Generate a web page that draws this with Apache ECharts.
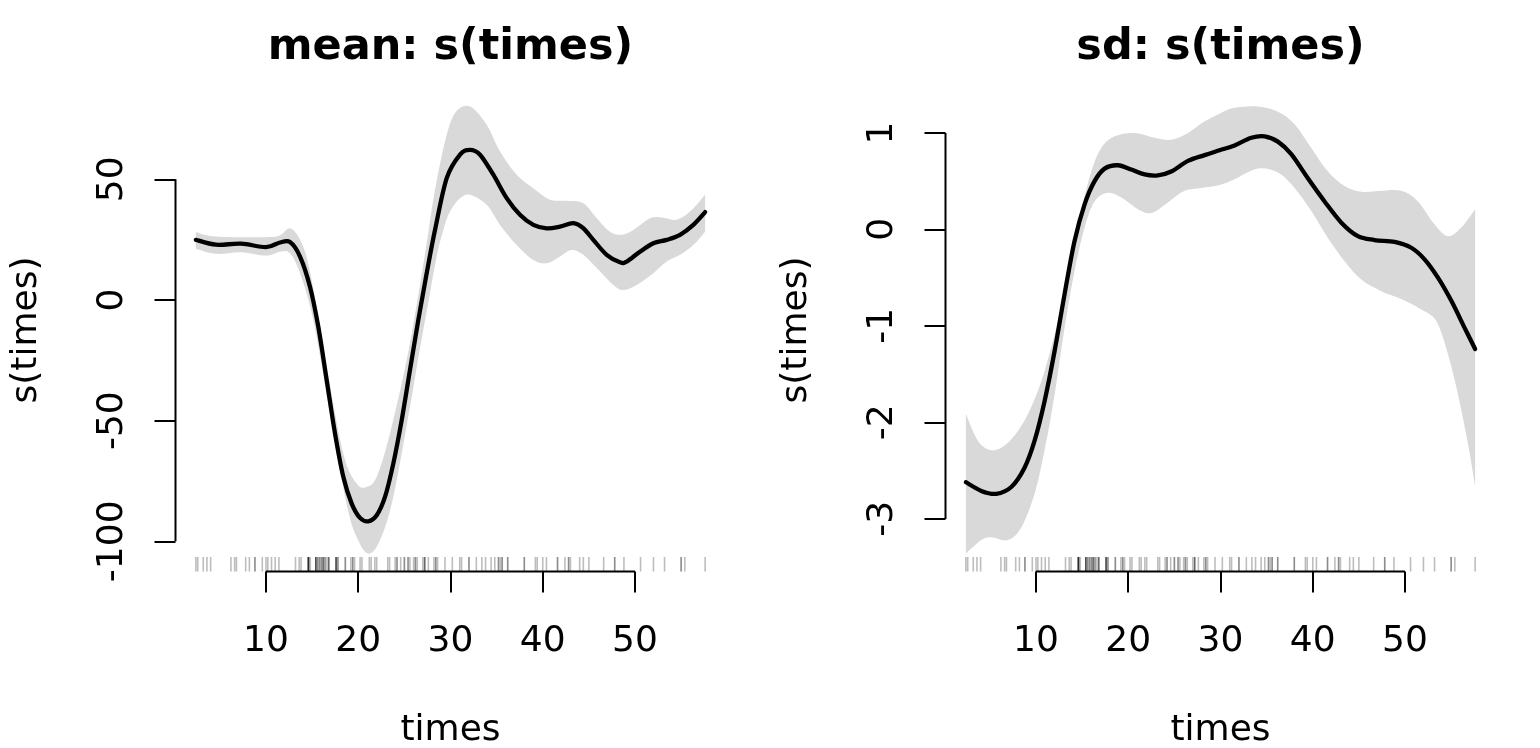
<!DOCTYPE html>
<html><head><meta charset="utf-8">
<script src="https://cdn.jsdelivr.net/npm/echarts@6/dist/echarts.min.js"></script>
<style>html,body{margin:0;padding:0;background:#fff}#c{width:1540px;height:748px}</style>
</head><body><div id="c"></div>
<script>
// rug: observed times (mcycle)
const times = [2.4,2.6,3.2,3.6,4.0,6.2,6.6,6.8,7.8,8.2,8.8,8.8,9.6,10.0,10.2,10.6,11.0,11.4,13.2,13.6,13.8,14.6,14.6,14.6,14.6,14.6,14.6,14.8,15.4,15.4,15.4,15.4,15.6,15.6,15.8,15.8,16.0,16.0,16.2,16.2,16.2,16.4,16.4,16.6,16.8,16.8,16.8,17.6,17.6,17.6,17.6,17.8,17.8,18.6,18.6,19.2,19.4,19.4,19.6,20.2,20.4,21.2,21.4,21.8,22.0,23.2,23.4,24.0,24.2,24.2,24.6,25.0,25.0,25.4,25.4,25.6,26.0,26.2,26.2,26.4,27.0,27.2,27.2,27.2,27.6,28.2,28.4,28.4,28.6,29.4,30.2,31.0,31.2,32.0,32.0,32.8,33.4,33.8,34.4,34.8,35.2,35.2,35.4,35.6,35.6,36.2,36.2,38.0,38.0,39.2,39.4,40.0,40.4,41.6,41.6,42.4,42.8,42.8,43.0,44.0,44.4,45.0,46.6,47.8,47.8,48.8,50.6,52.0,53.2,55.0,55.0,55.4,57.6];

// mean: s(times)
const meanFitT = [2.4,4.58,7.29,10.0,11.52,12.6,13.69,14.77,15.67,16.58,17.48,18.38,19.29,20.19,21.09,22.0,22.9,23.8,24.71,25.61,26.51,27.42,28.32,29.59,31.03,32.11,33.2,34.64,36.09,37.53,38.98,40.43,41.87,43.31,44.4,45.48,46.93,48.37,49.1,50.54,51.99,53.43,54.88,56.32,57.6];
const meanFitV = [24.9,22.9,23.3,21.9,23.8,24.0,18.0,5.5,-11.1,-33.2,-55.3,-73.3,-84.4,-90.3,-91.7,-89.2,-81.6,-67.8,-49.8,-29.0,-8.3,11.1,29.0,50.5,60.2,62.2,60.2,51.9,42.2,35.3,31.1,29.7,30.4,31.8,29.7,24.9,18.7,15.6,15.9,20.0,23.5,24.9,27.0,31.1,36.4];
const meanUpT = [2.4,4.58,10.0,11.52,12.6,13.69,14.77,16.58,18.38,19.83,20.91,22.0,23.44,25.25,26.51,27.4,28.2,29.4,30.5,32.11,33.92,35.37,37.17,38.98,40.79,42.6,44.4,45.85,47.29,48.55,49.82,51.63,53.07,54.52,55.96,57.6];
const meanUpV = [28.1,26.3,26.0,26.8,29.7,24.9,11.8,-27.7,-63.6,-76.1,-77.5,-73.3,-55.3,-24.9,2.1,23.0,43.0,65.7,77.5,80.2,72.6,61.5,51.9,46.3,41.5,41.1,40.1,33.9,28.3,27.0,29.0,33.9,34.1,33.2,36.6,43.6];
const meanLoT = [2.4,4.58,7.29,10.0,11.52,12.6,13.69,15.13,16.94,18.74,19.83,21.09,22.35,23.8,25.61,26.6,27.6,28.5,29.3,29.95,31.0,32.11,33.92,35.37,37.17,38.98,40.43,41.87,43.13,44.4,45.85,47.65,48.73,50.18,51.99,53.43,54.88,56.32,57.6];
const meanLoV = [21.2,19.1,19.8,18.4,20.0,19.4,11.1,-8.3,-47.0,-84.4,-98.2,-105.1,-99.6,-81.6,-44.3,-22.0,-1.0,18.0,30.0,36.6,42.0,43.6,39.4,31.1,22.8,16.6,15.2,18.0,20.7,18.7,13.2,6.2,4.1,6.2,11.1,15.9,18.7,22.8,28.3];

// sd: s(times)
const sdFitT = [2.4,4.07,5.7,7.32,8.76,9.85,10.93,12.02,13.1,14.18,15.27,16.35,17.44,18.88,20.33,21.77,23.21,24.66,26.47,28.28,29.9,31.53,33.34,34.78,36.22,37.67,39.47,41.28,43.1,44.9,46.7,48.87,50.68,52.12,53.57,55.02,56.46,57.6];
const sdFitV = [-2.62,-2.71,-2.74,-2.67,-2.47,-2.19,-1.78,-1.26,-0.67,-0.12,0.26,0.50,0.63,0.665,0.62,0.57,0.56,0.60,0.71,0.77,0.82,0.87,0.95,0.965,0.91,0.78,0.53,0.29,0.07,-0.07,-0.11,-0.13,-0.19,-0.31,-0.50,-0.74,-1.02,-1.24];
const sdUpT = [2.4,3.7,5.15,6.6,8.04,9.49,10.93,12.38,13.83,14.91,16.0,17.08,18.52,20.69,22.86,24.66,26.47,28.28,29.9,31.53,34.05,36.22,38.03,39.84,41.64,43.45,45.26,47.43,49.6,51.4,53.21,54.65,56.1,57.6];
const sdUpV = [-1.91,-2.19,-2.29,-2.24,-2.09,-1.84,-1.47,-0.95,-0.33,0.19,0.60,0.845,0.965,1.0,0.95,0.93,1.0,1.12,1.2,1.26,1.275,1.22,1.09,0.845,0.60,0.45,0.39,0.40,0.40,0.29,0.05,-0.07,0.02,0.21];
const sdLoT = [2.4,4.07,5.15,6.95,8.4,9.85,10.93,12.02,13.1,14.18,15.27,16.35,17.8,19.25,21.05,22.5,24.3,26.11,27.92,29.9,31.53,34.05,36.22,38.03,39.84,41.64,43.45,45.26,47.43,49.6,51.77,53.39,54.65,55.74,56.82,57.6];
const sdLoV = [-3.36,-3.22,-3.19,-3.22,-3.09,-2.74,-2.29,-1.71,-1.02,-0.43,0.02,0.29,0.38,0.33,0.21,0.17,0.28,0.40,0.43,0.46,0.52,0.63,0.59,0.43,0.19,-0.09,-0.33,-0.52,-0.64,-0.72,-0.83,-0.95,-1.29,-1.71,-2.22,-2.66];

// tick labels
const xTicks = [10,20,30,40,50];
const meanYTicks = [-100,-50,0,50];
const sdYTicks = [-3,-2,-1,0,1];
const titles = ['mean: s(times)', 'sd: s(times)'];
const xName = 'times';
const yName = 's(times)';

// R-style axis ranges (data range extended 4% each side)
function ext(a, b){ const d = (b - a) * 0.04; return [a - d, b + d]; }
const xr = ext(Math.min(...times), Math.max(...times));
const meanYr = ext(Math.min(...meanLoV), Math.max(...meanUpV));
const sdYr = ext(Math.min(...sdLoV), Math.max(...sdUpV));

const FONT = 'DejaVu Sans';

function catmull(pts){
  let d = '';
  for (let i = 0; i < pts.length - 1; i++){
    const p0 = pts[i-1] || pts[i], p1 = pts[i], p2 = pts[i+1], p3 = pts[i+2] || pts[i+1];
    const c1 = [p1[0] + (p2[0]-p0[0])/6, p1[1] + (p2[1]-p0[1])/6];
    const c2 = [p2[0] - (p3[0]-p1[0])/6, p2[1] - (p3[1]-p1[1])/6];
    d += ' C' + c1[0] + ',' + c1[1] + ' ' + c2[0] + ',' + c2[1] + ' ' + p2[0] + ',' + p2[1];
  }
  return d;
}
function bandSeries(gi, upT, upV, loT, loV){
  return {
    type: 'custom', xAxisIndex: gi, yAxisIndex: gi, z: 1, silent: true, clip: false,
    data: [[upT[0], upV[0]]],
    renderItem: function(params, api){
      const up = upT.map((t, i) => api.coord([t, upV[i]]));
      const lo = loT.map((t, i) => api.coord([t, loV[i]])).reverse();
      const d = 'M' + up[0][0] + ',' + up[0][1] + catmull(up) +
        ' L' + lo[0][0] + ',' + lo[0][1] + catmull(lo) + ' Z';
      return { type: 'path', shape: { pathData: d }, style: { fill: '#d9d9d9', stroke: null } };
    }
  };
}
function fitSeries(gi, t, v){
  return {
    type: 'custom', xAxisIndex: gi, yAxisIndex: gi, z: 3, silent: true, clip: false,
    data: [[t[0], v[0]]],
    renderItem: function(params, api){
      const p = t.map((x, i) => api.coord([x, v[i]]));
      const d = 'M' + p[0][0] + ',' + p[0][1] + catmull(p);
      return { type: 'path', shape: { pathData: d }, style: { fill: null, stroke: '#000', lineWidth: 4.3, lineJoin: 'round', lineCap: 'round' } };
    }
  };
}
function rugSeries(gi, yr){
  return {
    type: 'scatter', xAxisIndex: gi, yAxisIndex: gi, z: 2, silent: true, clip: false,
    data: times.map(t => [t, yr[0]]),
    symbol: 'rect', symbolSize: [1.6, 14.5], symbolOffset: [0, -7.25],
    itemStyle: { color: 'rgba(0,0,0,0.32)' }
  };
}
function axisLines(gi, yr, yTicks){
  return [
    { type: 'line', xAxisIndex: gi, yAxisIndex: gi, z: 4, silent: true, clip: false, symbol: 'none',
      data: [[xTicks[0], yr[0]], [xTicks[xTicks.length-1], yr[0]]], lineStyle: { color: '#000', width: 2 } },
    { type: 'line', xAxisIndex: gi, yAxisIndex: gi, z: 4, silent: true, clip: false, symbol: 'none',
      data: [[xr[0], yTicks[0]], [xr[0], yTicks[yTicks.length-1]]], lineStyle: { color: '#000', width: 2 } }
  ];
}
function xAxis(gi){
  return {
    gridIndex: gi, type: 'value', min: xr[0], max: xr[1],
    axisLine: { show: false, onZero: false }, splitLine: { show: false },
    axisTick: { show: true, customValues: xTicks, length: 21, lineStyle: { color: '#000', width: 2 } },
    axisLabel: { customValues: xTicks, fontSize: 36, fontFamily: FONT, color: '#000', margin: 52 },
    name: xName, nameLocation: 'middle', nameGap: 141,
    nameTextStyle: { fontSize: 36, fontFamily: FONT, color: '#000' }
  };
}
function yAxis(gi, yr, ticks){
  return {
    gridIndex: gi, type: 'value', min: yr[0], max: yr[1],
    axisLine: { show: false, onZero: false }, splitLine: { show: false },
    axisTick: { show: true, customValues: ticks, length: 21, lineStyle: { color: '#000', width: 2 } },
    axisLabel: { customValues: ticks, fontSize: 36, fontFamily: FONT, color: '#000', margin: 45, rotate: 90 },
    name: yName, nameLocation: 'middle', nameGap: 131,
    nameTextStyle: { fontSize: 36, fontFamily: FONT, color: '#000' }
  };
}

const chart = echarts.init(document.getElementById('c'), null, { renderer: 'canvas' });
chart.setOption({
  animation: false,
  backgroundColor: '#fff',
  title: [
    { text: titles[0], left: 450.5, top: 26, textAlign: 'center', padding: 0,
      textStyle: { fontSize: 43, fontWeight: 'bold', fontFamily: FONT, color: '#000' } },
    { text: titles[1], left: 1220.5, top: 26, textAlign: 'center', padding: 0,
      textStyle: { fontSize: 43, fontWeight: 'bold', fontFamily: FONT, color: '#000' } }
  ],
  grid: [
    { left: 175.5, top: 88.5, width: 550, height: 483, outerBoundsMode: 'none', containLabel: false },
    { left: 945.5, top: 88.5, width: 550, height: 483, outerBoundsMode: 'none', containLabel: false }
  ],
  xAxis: [xAxis(0), xAxis(1)],
  yAxis: [yAxis(0, meanYr, meanYTicks), yAxis(1, sdYr, sdYTicks)],
  series: [
    bandSeries(0, meanUpT, meanUpV, meanLoT, meanLoV),
    rugSeries(0, meanYr),
    fitSeries(0, meanFitT, meanFitV),
    ...axisLines(0, meanYr, meanYTicks),
    bandSeries(1, sdUpT, sdUpV, sdLoT, sdLoV),
    rugSeries(1, sdYr),
    fitSeries(1, sdFitT, sdFitV),
    ...axisLines(1, sdYr, sdYTicks)
  ]
});
</script>
</body></html>
